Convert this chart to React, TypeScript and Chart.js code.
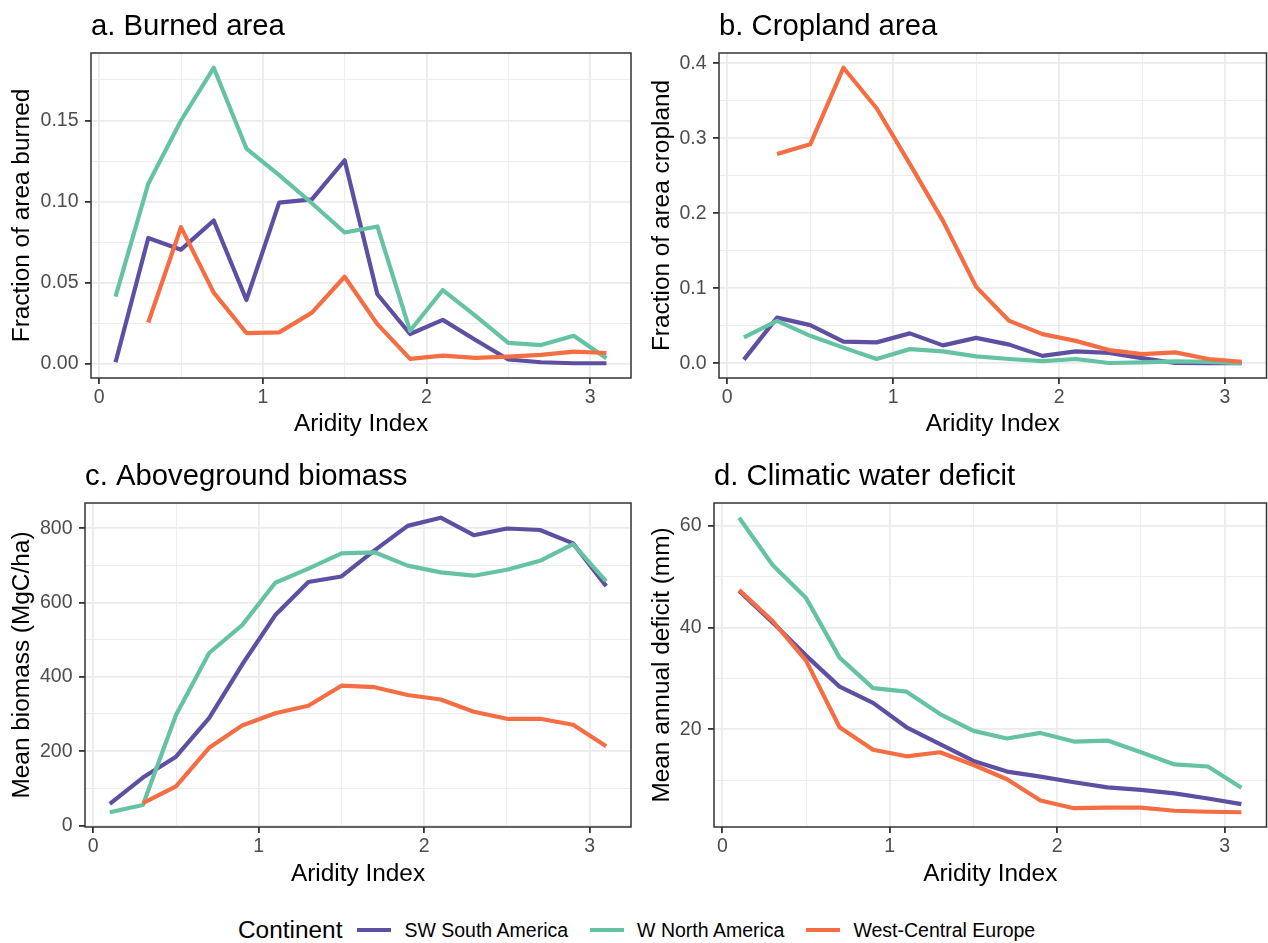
import React, { useEffect, useRef } from "react";
import { Chart, registerables } from "chart.js";

Chart.register(...registerables);

// ---------------- data ----------------
const aridity = [0.1, 0.3, 0.5, 0.7, 0.9, 1.1, 1.3, 1.5, 1.7, 1.9, 2.1, 2.3, 2.5, 2.7, 2.9, 3.1];

const continents = ["SW South America", "W North America", "West-Central Europe"];
const continentColors = ["#5E4FA2", "#66C2A5", "#F46D43"];

// a. Burned area (fraction of area burned)
const burnedSW = [0.001, 0.0776, 0.0704, 0.0884, 0.0394, 0.0994, 0.1014, 0.1255, 0.0429, 0.0184, 0.0271, 0.0147, 0.0027, 0.001, 0.0004, 0.0004];
const burnedWNA = [0.0414, 0.111, 0.15, 0.1825, 0.1327, 0.1163, 0.099, 0.081, 0.0847, 0.0204, 0.0455, 0.0296, 0.0129, 0.0116, 0.0173, 0.0035];
const burnedWCE = [null, 0.0255, 0.0843, 0.0439, 0.019, 0.0194, 0.0316, 0.0537, 0.0245, 0.0031, 0.0051, 0.0037, 0.0045, 0.0055, 0.0076, 0.0067];

// b. Cropland area (fraction of area cropland)
const cropSW = [0.005, 0.061, 0.051, 0.029, 0.028, 0.04, 0.024, 0.034, 0.025, 0.01, 0.016, 0.014, 0.007, 0.0005, 0.0003, 0.0002];
const cropWNA = [0.0345, 0.0566, 0.0367, 0.021, 0.0058, 0.019, 0.016, 0.0093, 0.0058, 0.003, 0.0058, 0.0005, 0.0013, 0.0027, 0.002, 0.0004];
const cropWCE = [null, 0.279, 0.292, 0.394, 0.34, 0.266, 0.19, 0.102, 0.0566, 0.039, 0.03, 0.0177, 0.0124, 0.0146, 0.0058, 0.0022];

// c. Aboveground biomass (MgC/ha)
const biomassSW = [58, 129, 185, 289, 433, 566, 655, 670, 740, 806, 828, 781, 799, 795, 759, 644];
const biomassWNA = [35.5, 55, 297, 464, 539, 653, 691, 732, 735, 699, 681, 672, 688, 712, 757, 657];
const biomassWCE = [null, 60, 105, 209, 269, 302, 322, 376, 372, 351, 339, 306, 287, 287, 271, 213];

// d. Climatic water deficit (mm)
const deficitSW = [47.2, 41.0, 34.5, 28.4, 25.2, 20.4, 17.1, 13.8, 11.7, 10.7, 9.6, 8.6, 8.1, 7.4, 6.4, 5.3];
const deficitWNA = [61.6, 52.3, 45.8, 34.1, 28.1, 27.4, 23.0, 19.7, 18.2, 19.3, 17.6, 17.8, 15.5, 13.1, 12.7, 8.5];
const deficitWCE = [47.4, 41.3, 33.5, 20.4, 16.0, 14.7, 15.5, 13.0, 10.2, 6.0, 4.5, 4.6, 4.6, 4.0, 3.8, 3.7];

// ticks
const xMajorTicks = [0, 1, 2, 3];
const xTickLabels = ["0", "1", "2", "3"];
const xMinorTicks = [0.5, 1.5, 2.5];

const burnedMajor = [0, 0.05, 0.1, 0.15];
const burnedLabels = ["0.00", "0.05", "0.10", "0.15"];
const burnedMinor = [0.025, 0.075, 0.125, 0.175];

const cropMajor = [0, 0.1, 0.2, 0.3, 0.4];
const cropLabels = ["0.0", "0.1", "0.2", "0.3", "0.4"];
const cropMinor = [0.05, 0.15, 0.25, 0.35];

const biomassMajor = [0, 200, 400, 600, 800];
const biomassLabels = ["0", "200", "400", "600", "800"];
const biomassMinor = [100, 300, 500, 700];

const deficitMajor = [20, 40, 60];
const deficitLabels = ["20", "40", "60"];
const deficitMinor = [10, 30, 50];

// ---------------- styling ----------------
const FONT = "'Liberation Sans', Arial, Helvetica, sans-serif";
const TITLE_SIZE = 29.3;
const AXIS_TITLE_SIZE = 24.4;
const TICK_SIZE = 19.5;
const LEGEND_TEXT_SIZE = 19.5;
const CANVAS_W = 634;
const CANVAS_H = 450;

type Area = { l: number; r: number; t: number; b: number };
type PanelSpec = {
  title: string;
  yTitle: string;
  series: (number | null)[][];
  yMajor: number[];
  yLabels: string[];
  yMinor: number[];
  pageLeft: number;
  pageTop: number;
  area: Area;
  yTitleLeft: number;
};

const panels: PanelSpec[] = [
  {
    title: "a. Burned area",
    yTitle: "Fraction of area burned",
    series: [burnedSW, burnedWNA, burnedWCE],
    yMajor: burnedMajor,
    yLabels: burnedLabels,
    yMinor: burnedMinor,
    pageLeft: 0,
    pageTop: 0,
    area: { l: 91, r: 631, t: 53, b: 378 },
    yTitleLeft: 12,
  },
  {
    title: "b. Cropland area",
    yTitle: "Fraction of area cropland",
    series: [cropSW, cropWNA, cropWCE],
    yMajor: cropMajor,
    yLabels: cropLabels,
    yMinor: cropMinor,
    pageLeft: 634,
    pageTop: 0,
    area: { l: 85, r: 632.5, t: 53, b: 378 },
    yTitleLeft: 18.5,
  },
  {
    title: "c. Aboveground biomass",
    yTitle: "Mean biomass (MgC/ha)",
    series: [biomassSW, biomassWNA, biomassWCE],
    yMajor: biomassMajor,
    yLabels: biomassLabels,
    yMinor: biomassMinor,
    pageLeft: 0,
    pageTop: 450,
    area: { l: 85, r: 631, t: 53, b: 377 },
    yTitleLeft: 12,
  },
  {
    title: "d. Climatic water deficit",
    yTitle: "Mean annual deficit (mm)",
    series: [deficitSW, deficitWNA, deficitWCE],
    yMajor: deficitMajor,
    yLabels: deficitLabels,
    yMinor: deficitMinor,
    pageLeft: 634,
    pageTop: 450,
    area: { l: 80, r: 632.5, t: 53, b: 377 },
    yTitleLeft: 18.5,
  },
];

const near = (a: number, b: number) => Math.abs(a - b) < 1e-9;

const decorPlugin = {
  id: "decor",
  afterDatasetsDraw(chart: any) {
    const { ctx, chartArea } = chart;
    ctx.save();
    ctx.strokeStyle = "#333333";
    ctx.lineWidth = 1.5;
    ctx.strokeRect(chartArea.left, chartArea.top, chartArea.right - chartArea.left, chartArea.bottom - chartArea.top);
    ctx.restore();
  },
  afterDraw(chart: any, _args: any, opts: any) {
    const { ctx, chartArea } = chart;
    ctx.save();
    ctx.font = `${TITLE_SIZE}px ${FONT}`;
    ctx.fillStyle = "#000000";
    ctx.textAlign = "left";
    ctx.textBaseline = "alphabetic";
    ctx.fillText(opts.text, chartArea.left, 34.5);
    ctx.restore();
  },
};

function Panel({ spec }: { spec: PanelSpec }) {
  const ref = useRef<HTMLCanvasElement | null>(null);

  useEffect(() => {
    const canvas = ref.current;
    if (!canvas) return;

    const vals = spec.series.flat().filter((v) => v !== null) as number[];
    const yMin = Math.min(...vals);
    const yMax = Math.max(...vals);
    const yPad = (yMax - yMin) * 0.05;
    const xMin = Math.min(...aridity);
    const xMax = Math.max(...aridity);
    const xPad = (xMax - xMin) * 0.05;

    const xAll = [...xMajorTicks, ...xMinorTicks].sort((a, b) => a - b);
    const yAll = [...spec.yMajor, ...spec.yMinor].sort((a, b) => a - b);
    const isXMajor = (v: number) => xMajorTicks.some((m) => near(m, v));
    const isYMajor = (v: number) => spec.yMajor.some((m) => near(m, v));

    const gridCommon = (isMajor: (v: number) => boolean) => ({
      color: "#EBEBEB",
      lineWidth: (c: any) => (c.tick && isMajor(c.tick.value) ? 1.8 : 0.9),
      tickColor: (c: any) => (c.tick && isMajor(c.tick.value) ? "#333333" : "rgba(0,0,0,0)"),
      tickWidth: 1.8,
      tickLength: 6,
      drawTicks: true,
      drawOnChartArea: true,
    });

    const chart = new Chart(canvas, {
      type: "line",
      data: {
        datasets: spec.series.map((s, i) => ({
          label: continents[i],
          data: aridity.map((x, j) => ({ x, y: s[j] })),
          borderColor: continentColors[i],
          backgroundColor: continentColors[i],
          borderWidth: 4.2,
          pointRadius: 0,
          pointHoverRadius: 0,
          tension: 0,
          fill: false,
          spanGaps: false,
          borderJoinStyle: "round",
          borderCapStyle: "butt",
          order: spec.series.length - i,
        })) as any,
      },
      options: {
        responsive: false,
        animation: false,
        devicePixelRatio: 1,
        events: [],
        layout: {
          padding: { left: 0, right: CANVAS_W - spec.area.r, top: spec.area.t, bottom: 0 },
        },
        plugins: {
          legend: { display: false },
          tooltip: { enabled: false },
          title: { display: false },
          decor: { text: spec.title },
        } as any,
        scales: {
          x: {
            type: "linear",
            position: "bottom",
            min: xMin - xPad,
            max: xMax + xPad,
            afterBuildTicks: (scale: any) => {
              scale.ticks = xAll.map((v) => ({ value: v }));
            },
            afterFit: (scale: any) => {
              scale.height = CANVAS_H - spec.area.b;
            },
            grid: gridCommon(isXMajor) as any,
            border: { display: false },
            ticks: {
              autoSkip: false,
              maxRotation: 0,
              padding: 2.3,
              color: "#4D4D4D",
              font: { family: FONT, size: TICK_SIZE },
              callback: (v: any) => {
                const idx = xMajorTicks.findIndex((m) => near(m, Number(v)));
                return idx >= 0 ? xTickLabels[idx] : "";
              },
            },
            title: {
              display: true,
              text: "Aridity Index",
              color: "#000000",
              font: { family: FONT, size: AXIS_TITLE_SIZE },
              padding: { top: 0, bottom: 11 },
            },
          },
          y: {
            type: "linear",
            position: "left",
            min: yMin - yPad,
            max: yMax + yPad,
            afterBuildTicks: (scale: any) => {
              scale.ticks = yAll.map((v) => ({ value: v }));
            },
            afterFit: (scale: any) => {
              scale.width = spec.area.l;
            },
            grid: gridCommon(isYMajor) as any,
            border: { display: false },
            ticks: {
              autoSkip: false,
              padding: 6.5,
              color: "#4D4D4D",
              font: { family: FONT, size: TICK_SIZE },
              callback: (v: any) => {
                const idx = spec.yMajor.findIndex((m) => near(m, Number(v)));
                return idx >= 0 ? spec.yLabels[idx] : "";
              },
            },
            title: {
              display: true,
              text: spec.yTitle,
              color: "#000000",
              font: { family: FONT, size: AXIS_TITLE_SIZE },
              padding: { top: spec.yTitleLeft + 10.2 - AXIS_TITLE_SIZE * 0.6, bottom: 0 },
            },
          },
        },
      },
      plugins: [decorPlugin as any],
    });

    return () => chart.destroy();
  }, [spec]);

  return (
    <canvas
      ref={ref}
      width={CANVAS_W}
      height={CANVAS_H}
      style={{ position: "absolute", left: spec.pageLeft, top: spec.pageTop, width: CANVAS_W, height: CANVAS_H }}
    />
  );
}

export default function App() {
  return (
    <div
      style={{
        position: "absolute",
        left: 0,
        top: 0,
        width: 1268,
        height: 943,
        background: "#FFFFFF",
        overflow: "hidden",
        fontFamily: FONT,
      }}
    >
      {panels.map((p) => (
        <Panel key={p.title} spec={p} />
      ))}
      <div
        style={{
          position: "absolute",
          left: 238,
          top: 915,
          height: 30,
          display: "flex",
          alignItems: "center",
          whiteSpace: "nowrap",
          color: "#000000",
        }}
      >
        <span style={{ fontSize: AXIS_TITLE_SIZE, marginRight: 15, lineHeight: "30px" }}>Continent</span>
        {continents.map((c, i) => (
          <React.Fragment key={c}>
            <span
              style={{
                display: "inline-block",
                width: 34,
                height: 4,
                background: continentColors[i],
                marginRight: 13,
              }}
            />
            <span style={{ fontSize: LEGEND_TEXT_SIZE, marginRight: 22, lineHeight: "30px" }}>{c}</span>
          </React.Fragment>
        ))}
      </div>
    </div>
  );
}
